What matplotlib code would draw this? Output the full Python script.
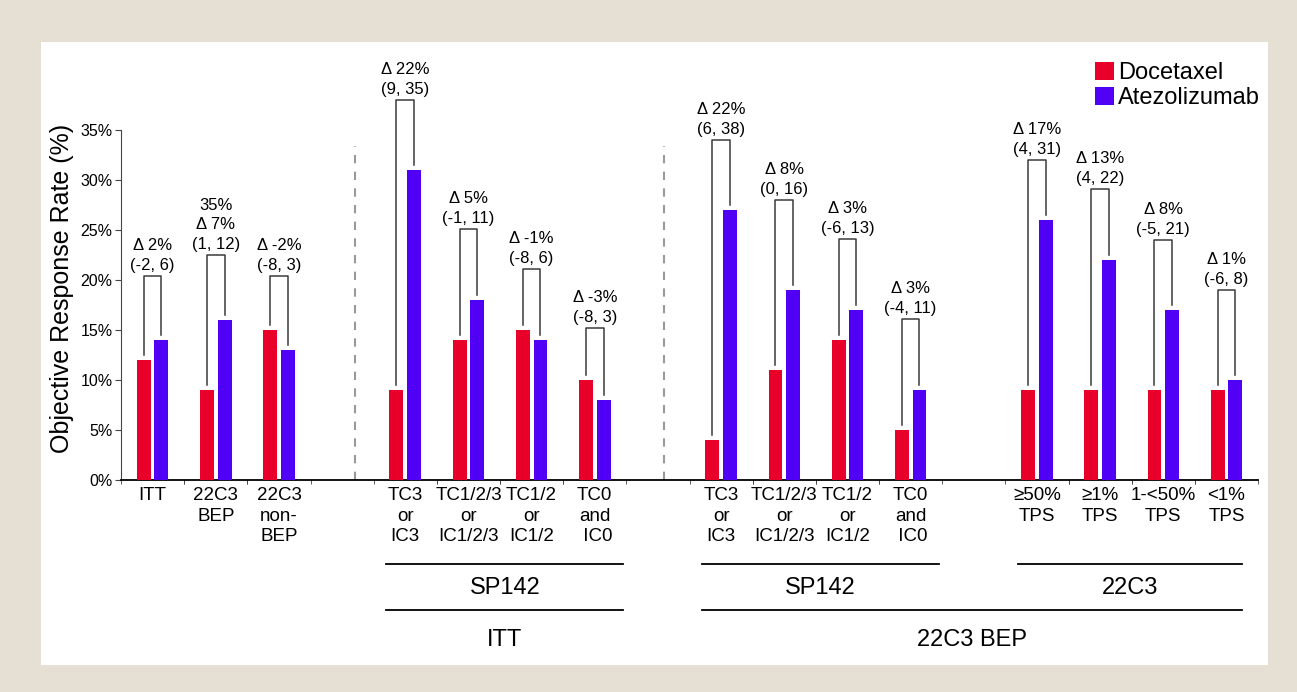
import matplotlib
matplotlib.use("Agg")
import matplotlib.pyplot as plt
import matplotlib.patches as mpatches
import matplotlib.transforms as mtransforms

plt.rcParams['font.family'] = ['Liberation Sans', 'DejaVu Sans']

# data
categories = ["ITT", "22C3\nBEP", "22C3\nnon-\nBEP",
              "TC3\nor\nIC3", "TC1/2/3\nor\nIC1/2/3", "TC1/2\nor\nIC1/2", "TC0\nand\n IC0",
              "TC3\nor\nIC3", "TC1/2/3\nor\nIC1/2/3", "TC1/2\nor\nIC1/2", "TC0\nand\n IC0",
              "≥50%\nTPS", "≥1%\nTPS", "1-<50%\nTPS", "<1%\nTPS"]
docetaxel = [12, 9, 15, 9, 14, 15, 10, 4, 11, 14, 5, 9, 9, 9, 9]
atezolizumab = [14, 16, 13, 31, 18, 14, 8, 27, 19, 17, 9, 26, 22, 17, 10]
delta_labels = ["Δ 2%\n(-2, 6)", "35%\nΔ 7%\n(1, 12)", "Δ -2%\n(-8, 3)",
                "Δ 22%\n(9, 35)", "Δ 5%\n(-1, 11)", "Δ -1%\n(-8, 6)", "Δ -3%\n(-8, 3)",
                "Δ 22%\n(6, 38)", "Δ 8%\n(0, 16)", "Δ 3%\n(-6, 13)", "Δ 3%\n(-4, 11)",
                "Δ 17%\n(4, 31)", "Δ 13%\n(4, 22)", "Δ 8%\n(-5, 21)", "Δ 1%\n(-6, 8)"]
bracket_top = [20.4, 22.5, 20.4, 38, 25.1, 21.1, 15.2, 34, 28, 24.1, 16.1, 32, 29.1, 24, 19]
section_sizes = [3, 4, 4, 4]
# (label, level, first category, last category)
group_lines = [("SP142", 1, 3, 6), ("ITT", 2, 3, 6),
               ("SP142", 1, 7, 10), ("22C3", 1, 11, 14), ("22C3 BEP", 2, 7, 14)]

red = "#e8002b"
blue = "#5000f5"

# positions: sections separated by one empty slot
pos = []
x = 0
for s in section_sizes:
    for i in range(s):
        pos.append(x)
        x += 1
    x += 1

fig = plt.figure(figsize=(12.97, 6.92), dpi=100)
fig.patch.set_facecolor("#e6e0d4")
fig.patches.append(mpatches.Rectangle((0.0314, 0.039), 0.9463, 0.9007, transform=fig.transFigure,
                                      facecolor="white", edgecolor="none", zorder=-10))
ax = fig.add_axes([0.0933, 0.3064, 0.8767, 0.5057])
ax.patch.set_alpha(0)

w = 0.22
off = 0.14
ax.bar([p - off for p in pos], docetaxel, width=w, color=red, label="Docetaxel", zorder=3)
ax.bar([p + off for p in pos], atezolizumab, width=w, color=blue, label="Atezolizumab", zorder=3)

# brackets + delta text
for p, d, a, top, lab in zip(pos, docetaxel, atezolizumab, bracket_top, delta_labels):
    ax.plot([p - off, p - off, p + off, p + off], [d + 0.5, top, top, a + 0.5],
            color="#3a3a3a", lw=1.1, clip_on=False, zorder=4)
    ax.annotate(lab, (p, top), xytext=(0, 2), textcoords="offset points",
                ha="center", va="bottom", fontsize=12, linespacing=1.4, annotation_clip=False)

# dashed separators
start = 0
for s in section_sizes[:2]:
    sep = pos[start + s - 1] + 1.2 - 0.1 * (start > 0)
    ax.plot([sep, sep], [0, 33.4], ls=(0, (4, 4)), color="#999999", lw=1.5, zorder=2)
    start += s

ax.set_xlim(-0.5, pos[-1] + 0.5)
ax.set_ylim(0, 35)
ax.set_yticks(range(0, 36, 5))
ax.set_yticklabels([f"{v}%" for v in range(0, 36, 5)], fontsize=11.5)
ax.set_xticks(pos)
ax.set_xticklabels(categories, fontsize=13.5, linespacing=1.28, va="top")
ax.set_xticks([b for p in pos for b in (p - 0.5, p + 0.5)], minor=True)
ax.tick_params(axis="x", which="major", length=0, pad=5)
ax.tick_params(axis="x", which="minor", length=3, direction="out", color="#444444")
ax.tick_params(axis="y", length=4, pad=2, color="#444444")

for sp in ["top", "right"]:
    ax.spines[sp].set_visible(False)
ax.spines["left"].set_color("#444444")
ax.spines["bottom"].set_color("black")
ax.spines["bottom"].set_linewidth(1.3)

# grouping lines below the axis
trans = mtransforms.blended_transform_factory(ax.transData, ax.transAxes)
for lab, level, i0, i1 in group_lines:
    y_line = -0.24 if level == 1 else -0.371
    x0 = pos[i0] - 0.3
    x1 = min(pos[i1] + 0.45, pos[-1] + 0.25)
    ax.plot([x0, x1], [y_line, y_line], color="black", lw=1.3, transform=trans, clip_on=False)
    ax.text((x0 + x1) / 2, y_line - (0.07 if level == 1 else 0.085), lab, transform=trans,
            ha="center", va="center", fontsize=17)

fig.text(0.048, 1 - 288 / 692, "Objective Response Rate (%)", rotation=90,
         ha="center", va="center", fontsize=18)

leg = fig.legend(loc="upper left", bbox_to_anchor=(1083 / 1297, 1 - 50 / 692), frameon=False,
                 fontsize=17, handlelength=0.8, handleheight=0.8, handletextpad=0.2,
                 labelspacing=0.12, borderpad=0)

fig.savefig("out.png", dpi=100, facecolor=fig.get_facecolor())
